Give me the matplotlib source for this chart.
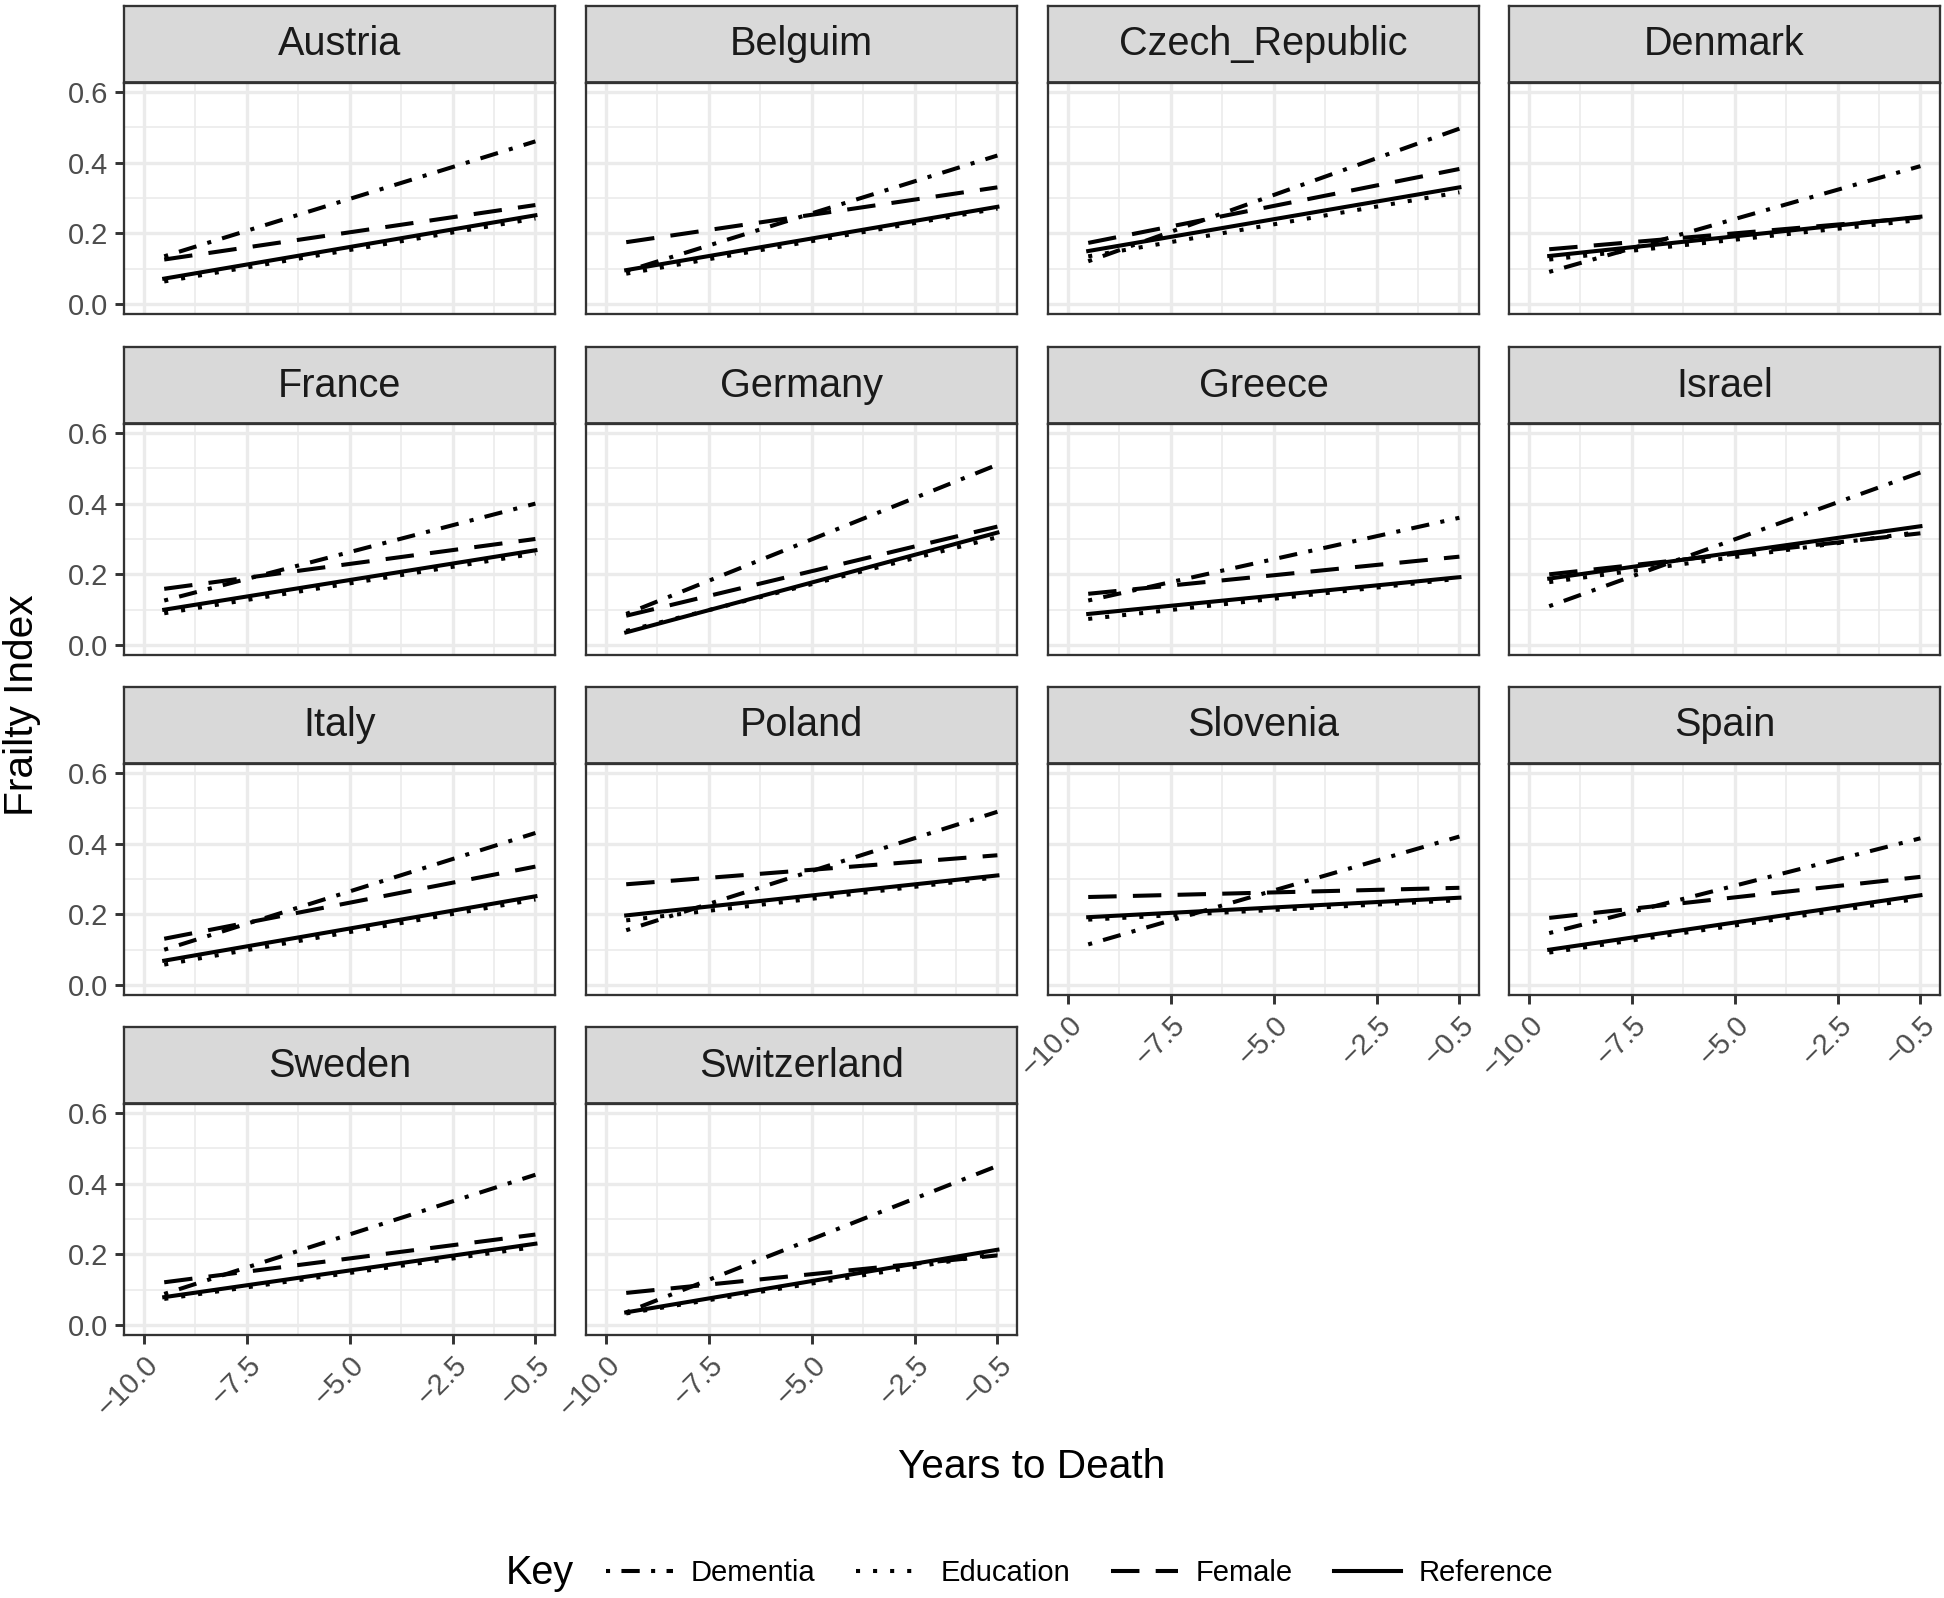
import matplotlib
matplotlib.use("Agg")
import matplotlib.pyplot as plt
from matplotlib.lines import Line2D

plt.rcParams['font.family'] = ['Liberation Sans', 'DejaVu Sans']

# trajectories: value at -9.5 and at -0.5 years to death
countries = ['Austria', 'Belguim', 'Czech_Republic', 'Denmark',
             'France', 'Germany', 'Greece', 'Israel',
             'Italy', 'Poland', 'Slovenia', 'Spain',
             'Sweden', 'Switzerland']
years = [-9.5, -0.5]

dementia_start = [0.135, 0.093, 0.121, 0.091, 0.126, 0.088, 0.126, 0.110, 0.100, 0.155, 0.115, 0.147, 0.088, 0.036]
dementia_end = [0.460, 0.420, 0.496, 0.390, 0.400, 0.510, 0.360, 0.488, 0.430, 0.490, 0.420, 0.415, 0.425, 0.450]
education_start = [0.064, 0.086, 0.135, 0.126, 0.090, 0.040, 0.074, 0.178, 0.058, 0.183, 0.185, 0.092, 0.074, 0.033]
education_end = [0.242, 0.270, 0.316, 0.238, 0.259, 0.305, 0.188, 0.320, 0.242, 0.305, 0.240, 0.245, 0.221, 0.202]
female_start = [0.126, 0.175, 0.173, 0.155, 0.159, 0.083, 0.145, 0.200, 0.131, 0.285, 0.249, 0.190, 0.121, 0.091]
female_end = [0.280, 0.330, 0.382, 0.245, 0.300, 0.335, 0.250, 0.316, 0.335, 0.367, 0.275, 0.306, 0.256, 0.197]
reference_start = [0.072, 0.096, 0.150, 0.136, 0.100, 0.036, 0.088, 0.188, 0.069, 0.197, 0.192, 0.100, 0.079, 0.036]
reference_end = [0.251, 0.275, 0.330, 0.247, 0.268, 0.318, 0.192, 0.336, 0.251, 0.310, 0.247, 0.254, 0.230, 0.213]

series = [
    ('Dementia', dementia_start, dementia_end, (1, 2.8, 4.5, 2.8)),
    ('Education', education_start, education_end, (1, 3.2)),
    ('Female', female_start, female_end, (7, 4)),
    ('Reference', reference_start, reference_end, None),
]

x_ticks = [-10.0, -7.5, -5.0, -2.5, -0.5]
x_tick_labels = ['\u221210.0', '\u22127.5', '\u22125.0', '\u22122.5', '\u22120.5']
x_minor = [-8.75, -6.25, -3.75, -1.5]
y_ticks = [0.0, 0.2, 0.4, 0.6]
y_minor = [0.1, 0.3, 0.5]

W, H = 1944, 1598
DPI = 150
fig = plt.figure(figsize=(W / DPI, H / DPI), dpi=DPI)

col_left = [124, 586, 1048, 1509]
panel_w = 431
strip_h = 77
panel_h = 231
row_top = [6, 347, 687, 1027]

dark = '#333333'
grid = '#EBEBEB'
lw = 1.95


def box(l, t, w, h):
    return [l / W, 1 - (t + h) / H, w / W, h / H]


for i, name in enumerate(countries):
    r, c = divmod(i, 4)
    l = col_left[c]
    t = row_top[r]

    # strip
    sax = fig.add_axes(box(l, t, panel_w, strip_h))
    sax.set_facecolor('#D9D9D9')
    sax.set_xticks([])
    sax.set_yticks([])
    for sp in sax.spines.values():
        sp.set_color(dark)
        sp.set_linewidth(1.1)
    sax.spines['bottom'].set_linewidth(1.8)
    sax.spines['bottom'].set_capstyle('butt')
    sax.text(0.5, 0.5, name, transform=sax.transAxes, ha='center', va='center',
             fontsize=19, color='#1A1A1A')

    ax = fig.add_axes(box(l, t + strip_h, panel_w, panel_h))
    ax.set_xlim(-10.475, -0.025)
    ax.set_ylim(-0.028, 0.625)
    ax.set_xticks(x_ticks)
    ax.set_xticks(x_minor, minor=True)
    ax.set_yticks(y_ticks)
    ax.set_yticks(y_minor, minor=True)
    ax.grid(which='major', color=grid, lw=1.6)
    ax.grid(which='minor', color=grid, lw=0.8)
    ax.set_axisbelow(True)
    for sp in ax.spines.values():
        sp.set_color(dark)
        sp.set_linewidth(1.1)
    ax.tick_params(which='minor', length=0)
    ax.tick_params(which='major', length=4.5, width=1.4, color=dark,
                   labelsize=14, labelcolor='#4D4D4D', pad=3)

    for label, s, e, dash in series:
        line, = ax.plot(years, [s[i], e[i]], color='black', lw=lw)
        if dash is not None:
            line.set_dashes(dash)

    if c == 0:
        ax.set_yticklabels(['0.0', '0.2', '0.4', '0.6'])
    else:
        ax.tick_params(axis='y', left=False, labelleft=False)

    bottom_row = (r == 3) or (r == 2 and c >= 2)
    if bottom_row:
        ax.set_xticklabels(x_tick_labels, rotation=45, ha='right', va='top',
                           rotation_mode='anchor')
    else:
        ax.tick_params(axis='x', bottom=False, labelbottom=False)

fig.text(1032 / W, 1 - 1467 / H, 'Years to Death', ha='center', va='center', fontsize=19.5)
fig.text(22 / W, 1 - 705 / H, 'Frailty Index', ha='center', va='center',
         rotation=90, fontsize=19.5)

fig.text(506 / W, 1 - 1573 / H, 'Key', ha='left', va='center', fontsize=19)
handles = []
for label, s, e, dash in series:
    h = Line2D([0], [0], color='black', lw=lw)
    if dash is not None:
        h.set_dashes(dash)
    handles.append(h)
fig.legend(handles, [s[0] for s in series], loc='center left',
           bbox_to_anchor=(606 / W, 1 - 1573 / H), ncol=4, frameon=False,
           borderpad=0, borderaxespad=0,
           fontsize=14, handlelength=2.3, columnspacing=1.4, handletextpad=0.6)

fig.savefig('out.png', dpi=DPI)
